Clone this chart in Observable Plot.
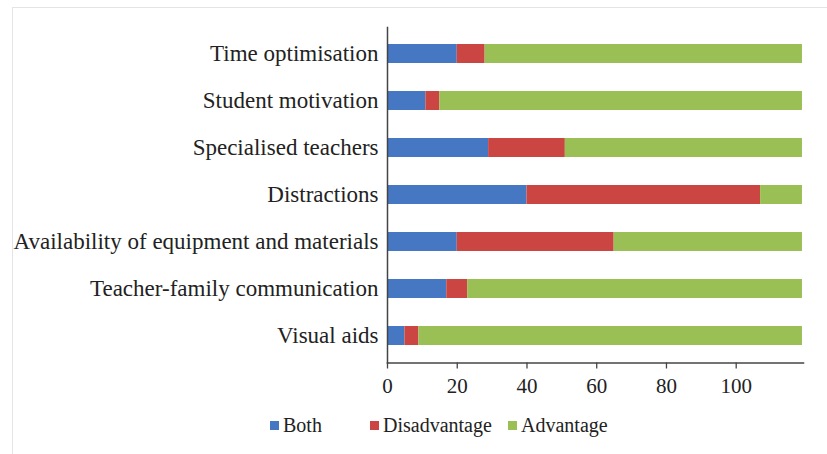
<!DOCTYPE html>
<html><head><meta charset="utf-8">
<script src="https://cdn.jsdelivr.net/npm/d3@7"></script>
<script src="https://cdn.jsdelivr.net/npm/@observablehq/plot@0.6"></script>
<style>
body{margin:0;background:#fff;}
#wrap{position:relative;width:827px;height:454px;overflow:hidden;font-family:"Liberation Serif",Tinos,"Times New Roman","DejaVu Serif",serif;}
#frame{position:absolute;left:12px;top:7px;width:830px;height:460px;border:1px solid #e4e4e4;box-sizing:border-box;}
#chart{position:absolute;left:0;top:0;}
#chart svg, #chart svg text{font-family:"Liberation Serif",Tinos,"Times New Roman","DejaVu Serif",serif !important;}
#legend{position:absolute;left:0;top:405px;width:827px;height:49px;font-size:20px;color:#222;}
.item{position:absolute;top:9px;display:flex;align-items:center;white-space:nowrap;}
.sw{width:9px;height:9px;margin-right:4px;}
</style></head><body>
<div id="wrap"><div id="frame"></div><div id="chart"></div><div id="legend"></div></div>
<script>
const categories = ["Time optimisation","Student motivation","Specialised teachers","Distractions","Availability of equipment and materials","Teacher-family communication","Visual aids"];
const series = ["Both","Disadvantage","Advantage"];
const both = [20,11,29,40,20,17,5];
const disadvantage = [8,4,22,67,45,6,4];
const advantage = [91,104,68,12,54,96,110];
const xTicks = [0,20,40,60,80,100];
const colors = ["#4677c2","#cb4643","#9abf55"];

const seriesValues = [both, disadvantage, advantage];
const rows = [];
categories.forEach((c, i) => {
  series.forEach((s, j) => rows.push({category: c, series: s, value: seriesValues[j][i]}));
});

const chart = Plot.plot({
  width: 827, height: 405,
  marginLeft: 387, marginRight: 24, marginTop: 27, marginBottom: 42.5,
  style: {fontSize: "22px", color: "#222", background: "transparent"},
  x: {domain: [0, 119.3], label: null},
  y: {domain: categories, paddingInner: 0.6, paddingOuter: 0.3, label: null},
  color: {domain: series, range: colors},
  marks: [
    Plot.barX(rows, {x: "value", y: "category", fill: "series"}),
    Plot.axisY({tickSize: 0, tickPadding: 9, fontSize: 23, label: null}),
    Plot.axisX({ticks: xTicks, tickSize: 6, tickPadding: 9.5, fontSize: 21, stroke: "#444", strokeWidth: 1.3, label: null}),
    Plot.frame({anchor: "left", stroke: "#444", strokeWidth: 1.5}),
    Plot.frame({anchor: "bottom", stroke: "#444", strokeWidth: 1.5})
  ]
});
document.getElementById("chart").appendChild(chart);

const color = chart.scale("color");
const legendX = [270, 370, 508];
const legend = document.getElementById("legend");
series.forEach((s, i) => {
  const item = document.createElement("div");
  item.className = "item";
  item.style.left = legendX[i] + "px";
  const sw = document.createElement("span");
  sw.className = "sw";
  sw.style.background = color.apply(s);
  const t = document.createElement("span");
  t.textContent = s;
  item.appendChild(sw); item.appendChild(t);
  legend.appendChild(item);
});
</script>
</body></html>
